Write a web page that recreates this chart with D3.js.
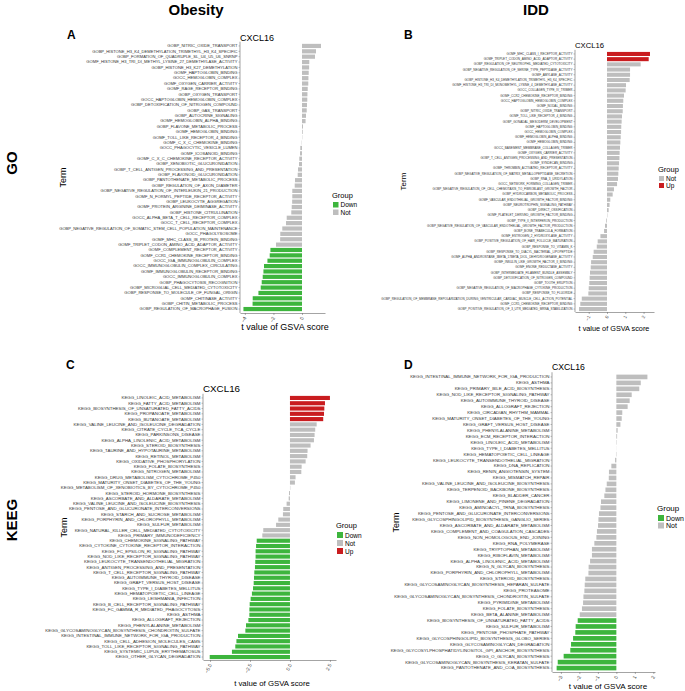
<!DOCTYPE html>
<html>
<head>
<meta charset="utf-8">
<script src="https://cdn.jsdelivr.net/npm/d3@7"></script>
<style>
  body { margin: 0; background: #fff; }
  svg { font-family: "Liberation Sans", Arial, sans-serif; }
</style>
</head>
<body>
<svg id="chart" width="685" height="691"></svg>
<script>
// ---- data: t value of GSVA score, CXCL16 ----
let goObesityTerms = ["GOBP_NITRIC_OXIDE_TRANSPORT","GOBP_HISTONE_H3_K4_DEMETHYLATION_TRIMETHYL_H3_K4_SPECIFIC","GOBP_FORMATION_OF_QUADRUPLE_SL_U4_U5_U6_SNRNP","GOMF_HISTONE_H3_TRI_DI_METHYL_LYSINE_27_DEMETHYLASE_ACTIVITY","GOBP_HISTONE_H3_K27_DEMETHYLATION","GOMF_HAPTOGLOBIN_BINDING","GOCC_HEMOGLOBIN_COMPLEX","GOMF_OXYGEN_CARRIER_ACTIVITY","GOMF_RAGE_RECEPTOR_BINDING","GOBP_OXYGEN_TRANSPORT","GOCC_HAPTOGLOBIN_HEMOGLOBIN_COMPLEX","GOBP_DETOXIFICATION_OF_NITROGEN_COMPOUND","GOBP_GAS_TRANSPORT","GOBP_AUTOCRINE_SIGNALING","GOMF_HEMOGLOBIN_ALPHA_BINDING","GOBP_FLAVONE_METABOLIC_PROCESS","GOMF_HEMOGLOBIN_BINDING","GOMF_TOLL_LIKE_RECEPTOR_4_BINDING","GOMF_C_X_C_CHEMOKINE_BINDING","GOCC_PHAGOCYTIC_VESICLE_LUMEN","GOMF_ICOSANOID_BINDING","GOMF_C_X_C_CHEMOKINE_RECEPTOR_ACTIVITY","GOBP_XENOBIOTIC_GLUCURONIDATION","GOBP_T_CELL_ANTIGEN_PROCESSING_AND_PRESENTATION","GOBP_FLAVONOID_GLUCURONIDATION","GOBP_PANTOTHENATE_METABOLIC_PROCESS","GOBP_REGULATION_OF_AXON_DIAMETER","GOBP_NEGATIVE_REGULATION_OF_INTERLEUKIN_21_PRODUCTION","GOMF_N_FORMYL_PEPTIDE_RECEPTOR_ACTIVITY","GOBP_LEUKOCYTE_AGGREGATION","GOMF_PROTEIN_ARGININE_DEIMINASE_ACTIVITY","GOBP_HISTONE_CITRULLINATION","GOCC_ALPHA_BETA_T_CELL_RECEPTOR_COMPLEX","GOCC_T_CELL_RECEPTOR_COMPLEX","GOBP_NEGATIVE_REGULATION_OF_SOMATIC_STEM_CELL_POPULATION_MAINTENANCE","GOCC_PHAGOLYSOSOME","GOMF_MHC_CLASS_IB_PROTEIN_BINDING","GOMF_TRIPLET_CODON_AMINO_ACID_ADAPTOR_ACTIVITY","GOMF_COMPLEMENT_RECEPTOR_ACTIVITY","GOMF_CCR1_CHEMOKINE_RECEPTOR_BINDING","GOCC_IGA_IMMUNOGLOBULIN_COMPLEX","GOCC_IMMUNOGLOBULIN_COMPLEX_CIRCULATING","GOMF_IMMUNOGLOBULIN_RECEPTOR_BINDING","GOCC_IMMUNOGLOBULIN_COMPLEX","GOBP_PHAGOCYTOSIS_RECOGNITION","GOBP_MICROGLIAL_CELL_MEDIATED_CYTOTOXICITY","GOBP_RESPONSE_TO_MOLECULE_OF_FUNGAL_ORIGIN","GOMF_CHITINASE_ACTIVITY","GOBP_CHITIN_METABOLIC_PROCESS","GOBP_REGULATION_OF_MACROPHAGE_FUSION"];
let goObesityValues = [1.33,0.98,0.91,0.51,0.5,0.47,0.45,0.44,0.4,0.38,0.37,0.35,0.33,0.28,0.25,0.07,0.05,0.02,-0.02,-0.12,-0.14,-0.19,-0.21,-0.28,-0.3,-0.49,-0.51,-0.68,-0.68,-0.69,-0.72,-0.75,-1.07,-1.12,-1.38,-1.52,-1.53,-1.82,-2.21,-2.26,-2.42,-2.66,-2.7,-2.75,-2.82,-2.89,-3.05,-3.45,-3.46,-4.1];

let goIddTerms = ["GOMF_MHC_CLASS_I_RECEPTOR_ACTIVITY","GOMF_TRIPLET_CODON_AMINO_ACID_ADAPTOR_ACTIVITY","GOBP_REGULATION_OF_NEUTROPHIL_MEDIATED_CYTOTOXICITY","GOBP_NEGATIVE_REGULATION_OF_SERINE_TYPE_PEPTIDASE_ACTIVITY","GOMF_AMYLASE_ACTIVITY","GOBP_HISTONE_H3_K4_DEMETHYLATION_TRIMETHYL_H3_K4_SPECIFIC","GOMF_HISTONE_H3_TRI_DI_MONOMETHYL_LYSINE_4_DEMETHYLASE_ACTIVITY","GOCC_COLLAGEN_TYPE_IV_TRIMER","GOMF_CCR2_CHEMOKINE_RECEPTOR_BINDING","GOCC_HAPTOGLOBIN_HEMOGLOBIN_COMPLEX","GOMF_NODAL_BINDING","GOBP_NITRIC_OXIDE_TRANSPORT","GOMF_TOLL_LIKE_RECEPTOR_4_BINDING","GOBP_GONADAL_MESODERM_DEVELOPMENT","GOMF_HAPTOGLOBIN_BINDING","GOCC_HEMOGLOBIN_COMPLEX","GOMF_HEMOGLOBIN_ALPHA_BINDING","GOMF_HEMOGLOBIN_BINDING","GOCC_BASEMENT_MEMBRANE_COLLAGEN_TRIMER","GOMF_OXYGEN_CARRIER_ACTIVITY","GOBP_T_CELL_ANTIGEN_PROCESSING_AND_PRESENTATION","GOMF_SYNDECAN_BINDING","GOMF_THROMBIN_ACTIVATED_RECEPTOR_ACTIVITY","GOBP_NEGATIVE_REGULATION_OF_MATRIX_METALLOPEPTIDASE_SECRETION","GOBP_RNA_3_URIDYLATION","GOCC_NETWORK_FORMING_COLLAGEN_TRIMER","GOBP_NEGATIVE_REGULATION_OF_CELL_CHEMOTAXIS_TO_FIBROBLAST_GROWTH_FACTOR","GOBP_HYDROCARBON_METABOLIC_PROCESS","GOMF_VASCULAR_ENDOTHELIAL_GROWTH_FACTOR_BINDING","GOBP_NEUROTROPHIN_SIGNALING_PATHWAY","GOBP_DIRECT_OSSIFICATION","GOMF_PLATELET_DERIVED_GROWTH_FACTOR_BINDING","GOBP_TYPE_II_INTERFERON_PRODUCTION","GOBP_NEGATIVE_REGULATION_OF_VASCULAR_ENDOTHELIAL_GROWTH_FACTOR_PRODUCTION","GOBP_BONE_TRABECULA_FORMATION","GOMF_ESTROGEN_2_HYDROXYLASE_ACTIVITY","GOBP_POSITIVE_REGULATION_OF_HAIR_FOLLICLE_MATURATION","GOBP_RESPONSE_TO_VITAMIN_K","GOBP_RESPONSE_TO_DIACYL_BACTERIAL_LIPOPEPTIDE","GOMF_ALPHA_ANDROSTANE_3BETA_17BETA_DIOL_DEHYDROGENASE_ACTIVITY","GOMF_INSULIN_LIKE_GROWTH_FACTOR_II_BINDING","GOMF_ENONE_REDUCTASE_ACTIVITY","GOBP_INTERMEDIATE_FILAMENT_BUNDLE_ASSEMBLY","GOBP_DETOXIFICATION_OF_NITROGEN_COMPOUND","GOBP_TOOTH_ERUPTION","GOBP_NEGATIVE_REGULATION_OF_MACROPHAGE_CYTOKINE_PRODUCTION","GOBP_RESPONSE_TO_FLUORIDE","GOBP_REGULATION_OF_MEMBRANE_REPOLARIZATION_DURING_VENTRICULAR_CARDIAC_MUSCLE_CELL_ACTION_POTENTIAL","GOMF_CCR5_CHEMOKINE_RECEPTOR_BINDING","GOBP_POSITIVE_REGULATION_OF_3_UTR_MEDIATED_MRNA_STABILIZATION"];
let goIddValues = [2.35,2.28,1.84,1.26,1.26,1.24,1.04,1.02,0.93,0.89,0.87,0.86,0.82,0.8,0.78,0.77,0.75,0.73,0.71,0.69,0.68,0.66,0.64,0.62,0.6,0.55,0.38,0.31,0.18,0.14,0.09,0.02,-0.04,-0.11,-0.16,-0.36,-0.51,-0.56,-0.73,-0.78,-0.87,-0.89,-0.93,-0.95,-0.97,-1.0,-1.02,-1.38,-1.46,-1.53];

let keggObesityTerms = ["KEGG_LINOLEIC_ACID_METABOLISM","KEGG_FATTY_ACID_METABOLISM","KEGG_BIOSYNTHESIS_OF_UNSATURATED_FATTY_ACIDS","KEGG_PROPANOATE_METABOLISM","KEGG_BUTANOATE_METABOLISM","KEGG_VALINE_LEUCINE_AND_ISOLEUCINE_DEGRADATION","KEGG_CITRATE_CYCLE_TCA_CYCLE","KEGG_PARKINSONS_DISEASE","KEGG_ALPHA_LINOLENIC_ACID_METABOLISM","KEGG_STEROID_BIOSYNTHESIS","KEGG_TAURINE_AND_HYPOTAURINE_METABOLISM","KEGG_RETINOL_METABOLISM","KEGG_OXIDATIVE_PHOSPHORYLATION","KEGG_FOLATE_BIOSYNTHESIS","KEGG_NITROGEN_METABOLISM","KEGG_DRUG_METABOLISM_CYTOCHROME_P450","KEGG_MATURITY_ONSET_DIABETES_OF_THE_YOUNG","KEGG_METABOLISM_OF_XENOBIOTICS_BY_CYTOCHROME_P450","KEGG_STEROID_HORMONE_BIOSYNTHESIS","KEGG_ASCORBATE_AND_ALDARATE_METABOLISM","KEGG_VALINE_LEUCINE_AND_ISOLEUCINE_BIOSYNTHESIS","KEGG_PENTOSE_AND_GLUCURONATE_INTERCONVERSIONS","KEGG_STARCH_AND_SUCROSE_METABOLISM","KEGG_PORPHYRIN_AND_CHLOROPHYLL_METABOLISM","KEGG_SULFUR_METABOLISM","KEGG_NATURAL_KILLER_CELL_MEDIATED_CYTOTOXICITY","KEGG_PRIMARY_IMMUNODEFICIENCY","KEGG_CHEMOKINE_SIGNALING_PATHWAY","KEGG_CYTOKINE_CYTOKINE_RECEPTOR_INTERACTION","KEGG_FC_EPSILON_RI_SIGNALING_PATHWAY","KEGG_NOD_LIKE_RECEPTOR_SIGNALING_PATHWAY","KEGG_LEUKOCYTE_TRANSENDOTHELIAL_MIGRATION","KEGG_ANTIGEN_PROCESSING_AND_PRESENTATION","KEGG_T_CELL_RECEPTOR_SIGNALING_PATHWAY","KEGG_AUTOIMMUNE_THYROID_DISEASE","KEGG_GRAFT_VERSUS_HOST_DISEASE","KEGG_TYPE_I_DIABETES_MELLITUS","KEGG_HEMATOPOIETIC_CELL_LINEAGE","KEGG_LEISHMANIA_INFECTION","KEGG_B_CELL_RECEPTOR_SIGNALING_PATHWAY","KEGG_FC_GAMMA_R_MEDIATED_PHAGOCYTOSIS","KEGG_ASTHMA","KEGG_ALLOGRAFT_REJECTION","KEGG_PHENYLALANINE_METABOLISM","KEGG_GLYCOSAMINOGLYCAN_BIOSYNTHESIS_CHONDROITIN_SULFATE","KEGG_INTESTINAL_IMMUNE_NETWORK_FOR_IGA_PRODUCTION","KEGG_CELL_ADHESION_MOLECULES_CAMS","KEGG_TOLL_LIKE_RECEPTOR_SIGNALING_PATHWAY","KEGG_SYSTEMIC_LUPUS_ERYTHEMATOSUS","KEGG_OTHER_GLYCAN_DEGRADATION"];
let keggObesityValues = [2.5,2.19,2.15,2.13,2.08,1.67,1.58,1.54,1.5,1.29,1.1,1.08,0.98,0.73,0.71,0.35,0.31,0.02,-0.06,-0.08,-0.21,-0.42,-0.44,-0.73,-0.87,-1.67,-1.73,-2.08,-2.12,-2.15,-2.15,-2.17,-2.19,-2.23,-2.25,-2.27,-2.31,-2.38,-2.46,-2.52,-2.54,-2.54,-2.6,-2.75,-2.79,-3.25,-3.35,-3.42,-3.63,-5.02];

let keggIddTerms = ["KEGG_INTESTINAL_IMMUNE_NETWORK_FOR_IGA_PRODUCTION","KEGG_ASTHMA","KEGG_PRIMARY_BILE_ACID_BIOSYNTHESIS","KEGG_NOD_LIKE_RECEPTOR_SIGNALING_PATHWAY","KEGG_AUTOIMMUNE_THYROID_DISEASE","KEGG_ALLOGRAFT_REJECTION","KEGG_CIRCADIAN_RHYTHM_MAMMAL","KEGG_MATURITY_ONSET_DIABETES_OF_THE_YOUNG","KEGG_GRAFT_VERSUS_HOST_DISEASE","KEGG_PHENYLALANINE_METABOLISM","KEGG_ECM_RECEPTOR_INTERACTION","KEGG_LINOLEIC_ACID_METABOLISM","KEGG_TYPE_I_DIABETES_MELLITUS","KEGG_HEMATOPOIETIC_CELL_LINEAGE","KEGG_LEUKOCYTE_TRANSENDOTHELIAL_MIGRATION","KEGG_DNA_REPLICATION","KEGG_RENIN_ANGIOTENSIN_SYSTEM","KEGG_MISMATCH_REPAIR","KEGG_VALINE_LEUCINE_AND_ISOLEUCINE_BIOSYNTHESIS","KEGG_TERPENOID_BACKBONE_BIOSYNTHESIS","KEGG_BLADDER_CANCER","KEGG_LIMONENE_AND_PINENE_DEGRADATION","KEGG_AMINOACYL_TRNA_BIOSYNTHESIS","KEGG_PENTOSE_AND_GLUCURONATE_INTERCONVERSIONS","KEGG_GLYCOSPHINGOLIPID_BIOSYNTHESIS_GANGLIO_SERIES","KEGG_ASCORBATE_AND_ALDARATE_METABOLISM","KEGG_COMPLEMENT_AND_COAGULATION_CASCADES","KEGG_NON_HOMOLOGOUS_END_JOINING","KEGG_RNA_POLYMERASE","KEGG_TRYPTOPHAN_METABOLISM","KEGG_RIBOFLAVIN_METABOLISM","KEGG_ALPHA_LINOLENIC_ACID_METABOLISM","KEGG_N_GLYCAN_BIOSYNTHESIS","KEGG_PORPHYRIN_AND_CHLOROPHYLL_METABOLISM","KEGG_STEROID_BIOSYNTHESIS","KEGG_GLYCOSAMINOGLYCAN_BIOSYNTHESIS_HEPARAN_SULFATE","KEGG_PROTEASOME","KEGG_GLYCOSAMINOGLYCAN_BIOSYNTHESIS_CHONDROITIN_SULFATE","KEGG_PYRIMIDINE_METABOLISM","KEGG_FOLATE_BIOSYNTHESIS","KEGG_BETA_ALANINE_METABOLISM","KEGG_BIOSYNTHESIS_OF_UNSATURATED_FATTY_ACIDS","KEGG_SULFUR_METABOLISM","KEGG_PENTOSE_PHOSPHATE_PATHWAY","KEGG_GLYCOSPHINGOLIPID_BIOSYNTHESIS_GLOBO_SERIES","KEGG_GLYCOSAMINOGLYCAN_DEGRADATION","KEGG_GLYCOSYLPHOSPHATIDYLINOSITOL_GPI_ANCHOR_BIOSYNTHESIS","KEGG_O_GLYCAN_BIOSYNTHESIS","KEGG_GLYCOSAMINOGLYCAN_BIOSYNTHESIS_KERATAN_SULFATE","KEGG_PANTOTHENATE_AND_COA_BIOSYNTHESIS"];
let keggIddValues = [1.68,1.32,1.24,0.83,0.72,0.61,0.32,0.29,0.22,0.07,0.04,0.02,0.005,-0.02,-0.07,-0.27,-0.4,-0.41,-0.52,-0.59,-0.65,-0.83,-0.86,-0.94,-0.97,-0.99,-1.05,-1.08,-1.19,-1.32,-1.32,-1.42,-1.5,-1.51,-1.68,-1.71,-1.73,-1.78,-1.8,-1.86,-1.98,-2.09,-2.2,-2.22,-2.34,-2.45,-2.49,-2.85,-3.17,-3.23];

let groupColors = {Down: "#3db53d", Not: "#bebebe", Up: "#c91c1f"};
let gene = "CXCL16";

// |t| > 2 marks the coloured groups
function groupOf(v) {
  if (v > 2) return "Up";
  if (v < -2) return "Down";
  return "Not";
}

let svg = d3.select("#chart");

function drawPanel(p) {
  let rows = p.terms.map((t, i) => ({term: t, value: p.values[i], group: groupOf(p.values[i])}));
  let step = (p.rowBot - p.rowTop) / (rows.length - 1);

  let x = d3.scaleLinear().domain(p.domain).range([p.x0, p.x1]);
  let y = d3.scaleBand()
    .domain(p.terms)
    .range([p.rowTop - step * 0.6, p.rowBot + step * 0.6])
    .paddingInner(0.22)
    .paddingOuter(0.2);

  let g = svg.append("g");

  // bars
  g.append("g").selectAll("rect")
    .data(rows)
    .enter().append("rect")
      .attr("x", d => x(Math.min(0, d.value)))
      .attr("y", d => y(d.term))
      .attr("width", d => Math.abs(x(d.value) - x(0)))
      .attr("height", y.bandwidth())
      .style("fill", d => groupColors[d.group]);

  // y axis with term labels
  let yAxis = g.append("g")
    .attr("transform", "translate(" + p.x0 + ",0)")
    .call(d3.axisLeft(y).tickSize(1.5).tickPadding(1).tickSizeOuter(0));
  yAxis.selectAll("text").style("font-size", p.labelSize + "px").style("fill", "#333");
  yAxis.select(".domain").attr("d", "M0," + (p.rowTop - step * 0.8) + "V" + p.axisY)
    .style("stroke", "#666").style("stroke-width", 0.6);
  yAxis.selectAll(".tick line").style("stroke", "#666").style("stroke-width", 0.4);

  // x axis
  let xAxis = g.append("g")
    .attr("transform", "translate(0," + p.axisY + ")")
    .call(d3.axisBottom(x).tickValues(p.ticks).tickFormat(d3.format(p.tickFormat))
      .tickSize(2).tickSizeOuter(0));
  xAxis.select(".domain").style("stroke", "#666").style("stroke-width", 0.6);
  xAxis.selectAll(".tick line").style("stroke", "#666").style("stroke-width", 0.5);
  xAxis.selectAll("text")
    .style("font-size", p.tickSize + "px")
    .style("fill", "#444")
    .attr("text-anchor", "end")
    .attr("dy", "0.3em")
    .attr("transform", "translate(0,4) rotate(-65)")
    .attr("y", 0).attr("x", 0);

  // title (left aligned to panel, as ggplot does)
  g.append("text")
    .attr("x", p.x0).attr("y", p.titleY)
    .style("font-size", p.titleSize + "px")
    .text(gene);

  // x title
  g.append("text")
    .attr("x", p.xlabX).attr("y", p.xlabY)
    .attr("text-anchor", "middle")
    .style("font-size", p.xlabSize + "px")
    .text("t value of GSVA score");

  // y title
  g.append("text")
    .attr("transform", "translate(" + p.termX + "," + ((p.rowTop + p.rowBot) / 2) + ") rotate(-90)")
    .attr("text-anchor", "middle")
    .style("font-size", p.termSize + "px")
    .text("Term");

  // legend
  let present = ["Down", "Not", "Up"].filter(k => rows.some(r => r.group == k));
  let leg = g.append("g").attr("transform", "translate(" + p.legX + "," + p.legY + ")");
  leg.append("text").attr("x", 0).attr("y", 0)
    .style("font-size", p.legSize + "px").text("Group");
  present.forEach((k, i) => {
    leg.append("rect")
      .attr("x", 1).attr("y", 4 + i * p.legStep)
      .attr("width", p.keySize).attr("height", p.keySize)
      .style("fill", groupColors[k]);
    leg.append("text")
      .attr("x", p.keySize + 3).attr("y", 4 + i * p.legStep + p.keySize - 0.5)
      .style("font-size", (p.legSize - 1) + "px").text(k);
  });
}

drawPanel({terms: goObesityTerms, values: goObesityValues,
  x0: 240, x1: 325, domain: [-4.34, 1.61], rowTop: 46, rowBot: 309, axisY: 313,
  ticks: [-4, -2, 0], tickFormat: "d", tickSize: 5, labelSize: 4.1,
  titleY: 41, titleSize: 9, xlabX: 285, xlabY: 330, xlabSize: 9,
  termX: 66, termSize: 9, legX: 332, legY: 198, legSize: 7.5, keySize: 5.5, legStep: 7.5});

drawPanel({terms: goIddTerms, values: goIddValues,
  x0: 575, x1: 654, domain: [-1.75, 2.57], rowTop: 54, rowBot: 309, axisY: 312,
  ticks: [-1, 0, 1, 2], tickFormat: "d", tickSize: 4.5, labelSize: 3.05,
  titleY: 48, titleSize: 7.7, xlabX: 614, xlabY: 331, xlabSize: 7.3,
  termX: 406, termSize: 8, legX: 658, legY: 172, legSize: 7.5, keySize: 5, legStep: 7});

drawPanel({terms: keggObesityTerms, values: keggObesityValues,
  x0: 203, x1: 336, domain: [-5.44, 2.88], rowTop: 398, rowBot: 657, axisY: 660,
  ticks: [-5, -2.5, 0, 2.5], tickFormat: ".1f", tickSize: 5, labelSize: 4.4,
  titleY: 392, titleSize: 9.8, xlabX: 272, xlabY: 686, xlabSize: 7.8,
  termX: 67, termSize: 9, legX: 336, legY: 528, legSize: 7.5, keySize: 6, legStep: 8});

drawPanel({terms: keggIddTerms, values: keggIddValues,
  x0: 552, x1: 655, domain: [-3.48, 2.09], rowTop: 377, rowBot: 668, axisY: 672,
  ticks: [-3, -2, -1, 0, 1, 2], tickFormat: "d", tickSize: 5, labelSize: 4.4,
  titleY: 370, titleSize: 8.7, xlabX: 608, xlabY: 689, xlabSize: 8.1,
  termX: 399, termSize: 9, legX: 657, legY: 511, legSize: 8, keySize: 6, legStep: 7.5});

// figure headers
svg.append("text").attr("x", 196).attr("y", 15).attr("text-anchor", "middle")
  .style("font-size", "15px").style("font-weight", "bold").text("Obesity");
svg.append("text").attr("x", 536).attr("y", 15).attr("text-anchor", "middle")
  .style("font-size", "15px").style("font-weight", "bold").text("IDD");
svg.append("text").attr("transform", "translate(17,163) rotate(-90)").attr("text-anchor", "middle")
  .style("font-size", "15px").style("font-weight", "bold").text("GO");
svg.append("text").attr("transform", "translate(17,520) rotate(-90)").attr("text-anchor", "middle")
  .style("font-size", "15px").style("font-weight", "bold").text("KEEG");

let letters = [["A", 67, 39], ["B", 404, 39], ["C", 66, 369], ["D", 404, 369]];
letters.forEach(l => {
  svg.append("text").attr("x", l[1]).attr("y", l[2])
    .style("font-size", "12px").style("font-weight", "bold").text(l[0]);
});
</script>
</body>
</html>
